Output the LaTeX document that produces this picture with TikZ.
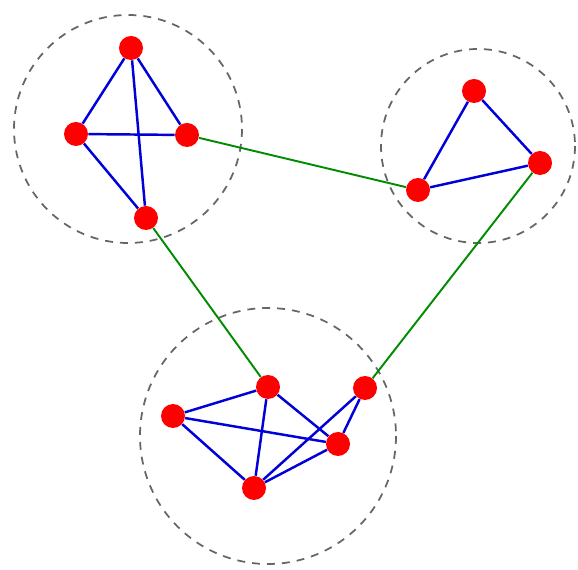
\documentclass[tikz,border=0pt]{standalone}
\usepackage{xcolor}
\usepackage{tikz}
\usetikzlibrary{arrows.meta, positioning, calc}

\tikzset{
  vtx/.style={circle, fill=red, draw=none, minimum size=4.8mm, inner sep=0pt},
  group/.style={draw=gray!80!black, dash pattern=on 4.5pt off 4pt, line width=1pt},
  intra/.style={draw=blue!85!black, line width=1.4pt},
  inter/.style={draw=green!55!black, line width=1.1pt},
}

\begin{document}
\begin{tikzpicture}[x=0.2mm, y=-0.2mm]
  \useasboundingbox (0,0) rectangle (578,570);
  % Dashed group outlines
  \draw[group] (128,129) circle (114);
  \draw[group] (478,146) circle (97);
  \draw[group] (268,436) circle (128);
  % Vertices of the three groups
  \foreach \xpos/\ypos/\vname in
    {131/48/a1, 76/134/a2, 187/135/a3, 146/218/a4,
     474/91/b1, 540/163/b2, 418/190/b3,
     268/387/c1, 173/416/c2, 365/388/c3, 338/444/c4, 254/488/c5} {
    \node[vtx] (\vname) at (\xpos,\ypos) {};
  }
  % Edges inside groups
  \foreach \from/\to in
    {a1/a2, a1/a3, a1/a4, a2/a3, a2/a4,
     b1/b2, b1/b3, b2/b3,
     c2/c1, c2/c4, c2/c5, c1/c5, c1/c4, c3/c4, c3/c5, c4/c5} {
    \draw[intra] (\from) -- (\to);
  }
  % Links between groups
  \foreach \from/\to in {a3/b3, a4/c1, b2/c3} {
    \draw[inter] (\from) -- (\to);
  }
\end{tikzpicture}
\end{document}
